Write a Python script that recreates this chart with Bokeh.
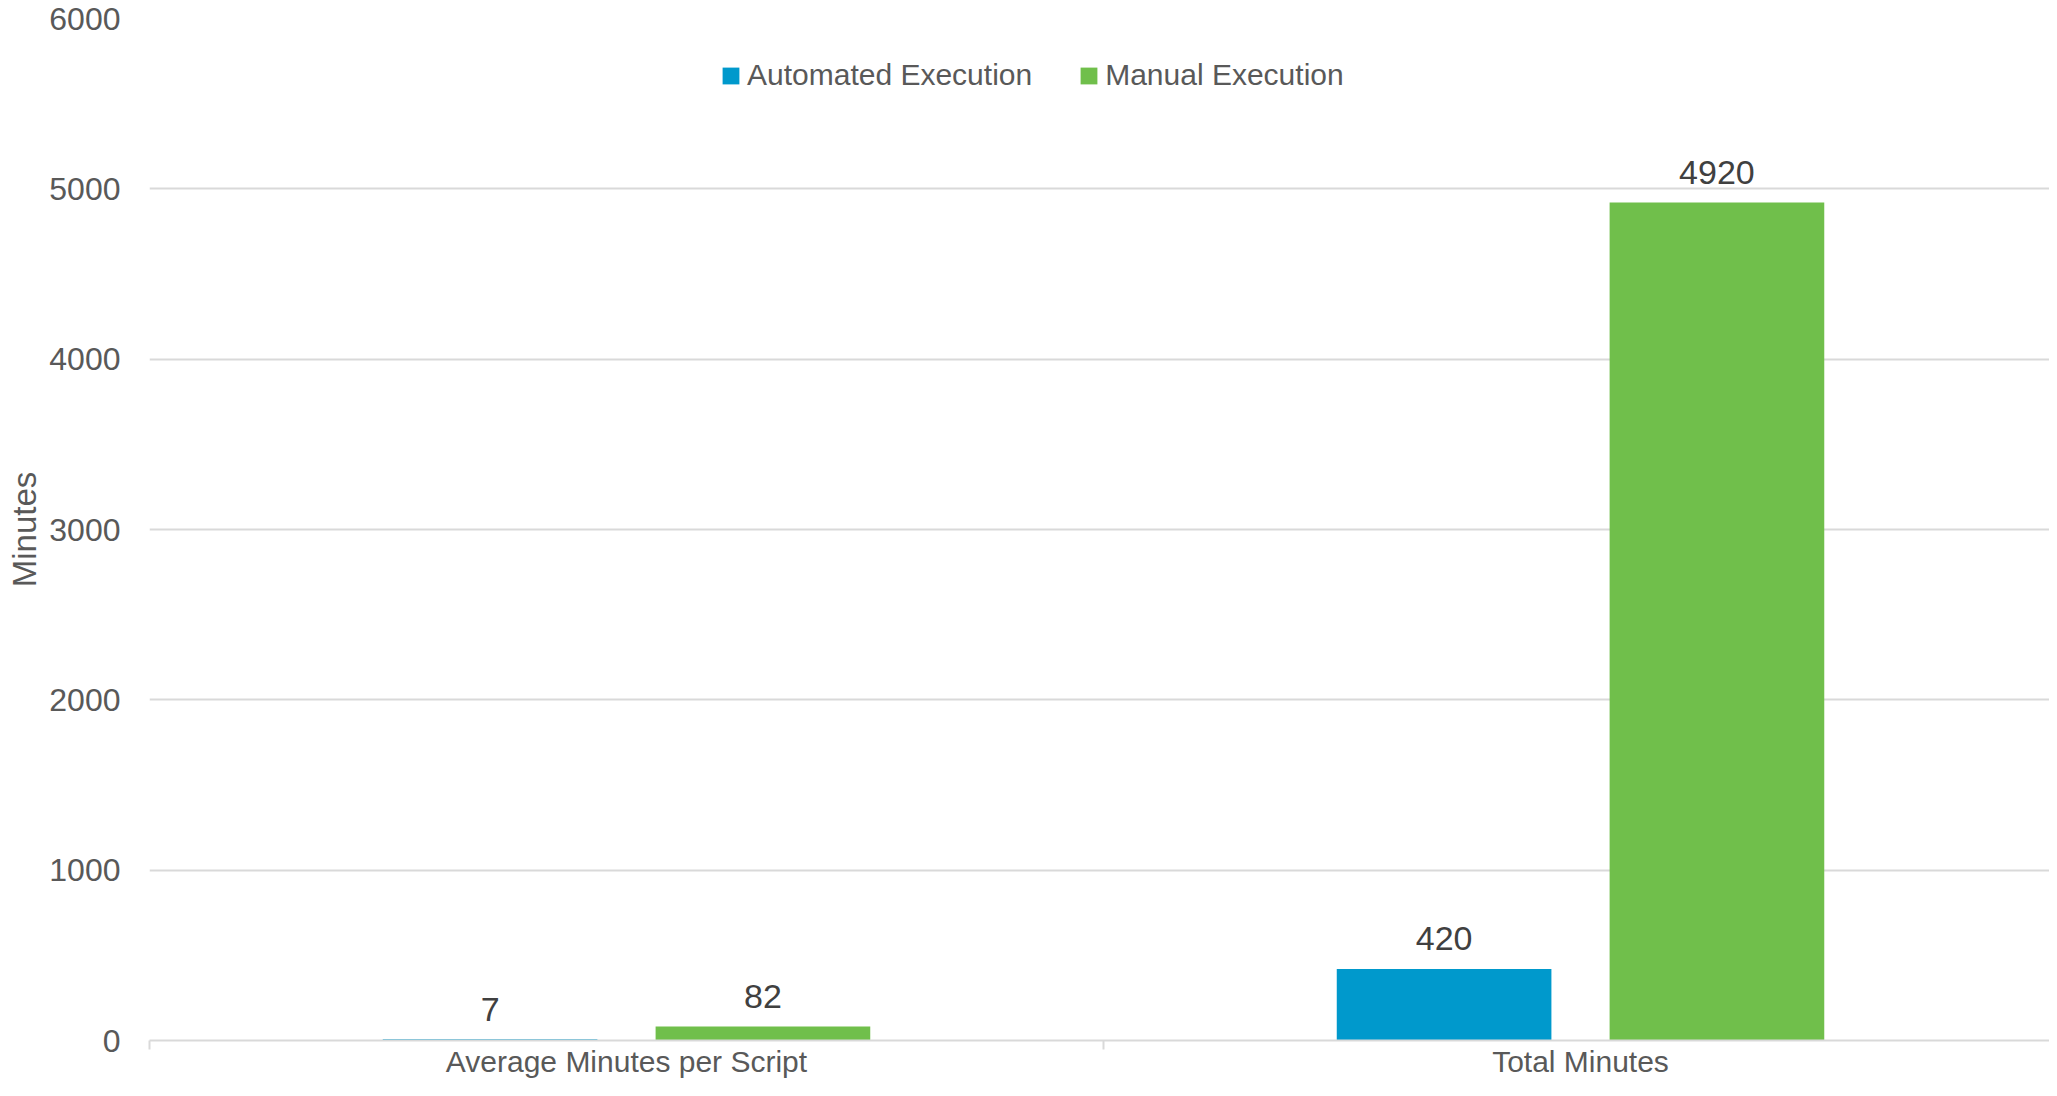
from bokeh.plotting import figure
from bokeh.models import (ColumnDataSource, Range1d, FixedTicker, Legend, LegendItem)
from bokeh.transform import dodge
from bokeh.core.properties import value
from bokeh.embed import file_html
from bokeh.resources import INLINE

# ---- data ----
categories = ["Average Minutes per Script", "Total Minutes"]
series_names = ["Automated Execution", "Manual Execution"]
automated = [7, 420]
manual = [82, 4920]
y_ticks = [0, 1000, 2000, 3000, 4000, 5000, 6000]
y_label = "Minutes"

BLUE = "#0099CC"
GREEN = "#70BF4B"
TXT = "#595959"
LBL = "#404040"
GRID = "#D9D9D9"
FONT = "Liberation Sans"

n = len(categories)
centres = [i + 0.5 for i in range(n)]          # category slots on the x scale
src = ColumnDataSource(dict(
    xc=centres,
    auto=automated,
    manual=manual,
    auto_lbl=[str(v) for v in automated],
    manual_lbl=[str(v) for v in manual],
))

# the original plot area runs slightly past the right edge of the picture
visible_fraction = 0.9958
p = figure(x_range=Range1d(0, n * visible_fraction), y_range=Range1d(y_ticks[0], y_ticks[-1]),
           width=2049, height=1080, output_backend="svg", toolbar_location=None,
           min_border_left=149, min_border_right=0,
           min_border_top=18, min_border_bottom=40)
p.outline_line_color = None
p.background_fill_color = "white"

off = 0.143
bw = 0.225
r_auto = p.vbar(x=dodge("xc", -off), top="auto", width=bw, source=src,
                fill_color=BLUE, line_color=None)
r_man = p.vbar(x=dodge("xc", off), top="manual", width=bw, source=src,
               fill_color=GREEN, line_color=None)

for col, lbl, o in (("auto", "auto_lbl", -off), ("manual", "manual_lbl", off)):
    p.text(x=dodge("xc", o), y=col, text=lbl, source=src,
           text_font=value(FONT), text_font_size="34px", text_color=LBL,
           text_align="center", text_baseline="middle", y_offset=-30)

# y axis
ya = p.yaxis[0]
ya.ticker = FixedTicker(ticks=y_ticks)
ya.axis_line_color = None
ya.major_tick_line_color = None
ya.minor_tick_line_color = None
ya.major_label_text_font = FONT
ya.major_label_text_font_size = "32px"
ya.major_label_text_color = TXT
ya.major_label_standoff = 23
ya.axis_label = y_label
ya.axis_label_text_font = FONT
ya.axis_label_text_font_size = "33px"
ya.axis_label_text_font_style = "normal"
ya.axis_label_text_color = TXT
ya.axis_label_standoff = 3

p.ygrid.grid_line_color = GRID
p.ygrid.grid_line_width = 2
p.xgrid.grid_line_color = None

# x axis: category labels at centres, small ticks at category boundaries
xa = p.xaxis[0]
xa.ticker = FixedTicker(ticks=centres, minor_ticks=list(range(n + 1)))
xa.major_label_overrides = {c: name for c, name in zip(centres, categories)}
xa.axis_line_color = GRID
xa.axis_line_width = 2
xa.major_tick_line_color = None
xa.major_tick_out = 0
xa.major_tick_in = 0
xa.minor_tick_line_color = GRID
xa.minor_tick_line_width = 2
xa.minor_tick_out = 0
xa.minor_tick_in = -9
xa.major_label_text_font = FONT
xa.major_label_text_font_size = "30px"
xa.major_label_text_color = TXT
xa.major_label_standoff = 4
xa.axis_label_standoff = 0

legend = Legend(items=[LegendItem(label=series_names[0], renderers=[r_auto]),
                       LegendItem(label=series_names[1], renderers=[r_man])],
                orientation="horizontal", location=(571, 948),
                border_line_color=None, background_fill_alpha=0,
                padding=0, margin=0, spacing=46, label_standoff=6,
                glyph_width=21, glyph_height=21,
                label_text_font=FONT, label_text_font_size="30px",
                label_text_color=TXT)
p.add_layout(legend)

open("out.html", "w").write(file_html(p, INLINE))
